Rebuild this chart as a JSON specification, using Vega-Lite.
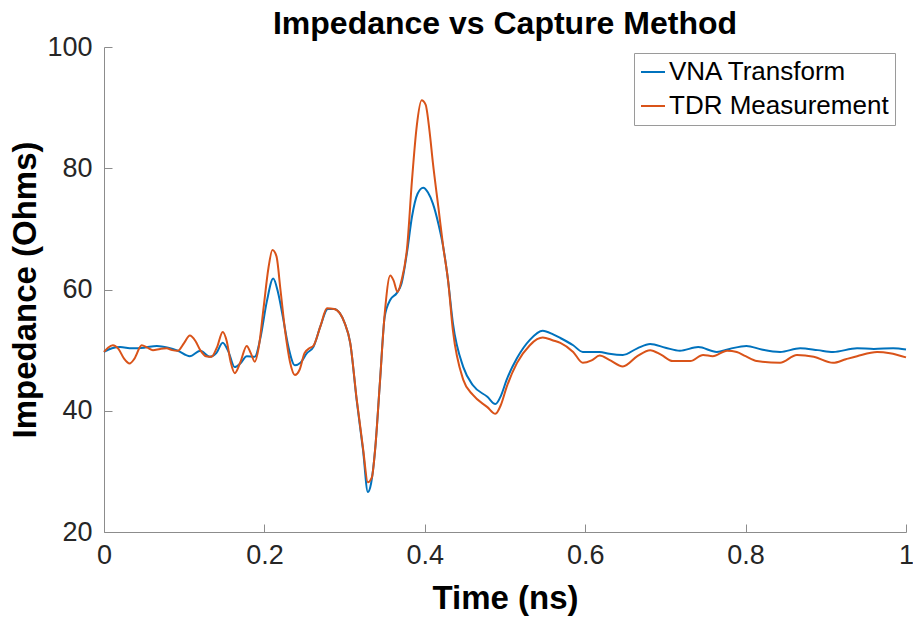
{
  "$schema": "https://vega.github.io/schema/vega-lite/v6.json",
  "width": 802,
  "height": 485,
  "autosize": {"type": "none"},
  "padding": {"left": 104, "top": 47, "right": 7, "bottom": 91},
  "background": "white",
  "title": {"text": "Impedance vs Capture Method", "fontSize": 32, "fontWeight": "bold", "font": "Liberation Sans", "color": "#000000", "anchor": "middle", "baseline": "alphabetic", "offset": -33},
  "config": {"view": {"stroke": null}},
  "data": {"values": [
    {"t":0.000,"z":49.7,"s":"VNA Transform"},{"t":0.010,"z":50.3,"s":"VNA Transform"},{"t":0.020,"z":50.5,"s":"VNA Transform"},{"t":0.035,"z":50.3,"s":"VNA Transform"},{"t":0.050,"z":50.4,"s":"VNA Transform"},{"t":0.066,"z":50.7,"s":"VNA Transform"},{"t":0.080,"z":50.4,"s":"VNA Transform"},{"t":0.092,"z":49.9,"s":"VNA Transform"},{"t":0.107,"z":49.0,"s":"VNA Transform"},{"t":0.120,"z":49.9,"s":"VNA Transform"},{"t":0.132,"z":48.9,"s":"VNA Transform"},{"t":0.140,"z":49.5,"s":"VNA Transform"},{"t":0.148,"z":51.2,"s":"VNA Transform"},{"t":0.155,"z":49.8,"s":"VNA Transform"},{"t":0.163,"z":47.2,"s":"VNA Transform"},{"t":0.170,"z":47.8,"s":"VNA Transform"},{"t":0.178,"z":49.0,"s":"VNA Transform"},{"t":0.188,"z":48.9,"s":"VNA Transform"},{"t":0.195,"z":52.0,"s":"VNA Transform"},{"t":0.203,"z":58.0,"s":"VNA Transform"},{"t":0.211,"z":61.8,"s":"VNA Transform"},{"t":0.217,"z":59.5,"s":"VNA Transform"},{"t":0.223,"z":55.5,"s":"VNA Transform"},{"t":0.230,"z":50.5,"s":"VNA Transform"},{"t":0.238,"z":47.5,"s":"VNA Transform"},{"t":0.245,"z":47.9,"s":"VNA Transform"},{"t":0.253,"z":49.5,"s":"VNA Transform"},{"t":0.261,"z":50.5,"s":"VNA Transform"},{"t":0.270,"z":54.0,"s":"VNA Transform"},{"t":0.279,"z":56.8,"s":"VNA Transform"},{"t":0.287,"z":56.8,"s":"VNA Transform"},{"t":0.294,"z":56.1,"s":"VNA Transform"},{"t":0.300,"z":54.5,"s":"VNA Transform"},{"t":0.307,"z":51.2,"s":"VNA Transform"},{"t":0.315,"z":41.8,"s":"VNA Transform"},{"t":0.323,"z":33.5,"s":"VNA Transform"},{"t":0.329,"z":26.6,"s":"VNA Transform"},{"t":0.333,"z":28.0,"s":"VNA Transform"},{"t":0.338,"z":33.5,"s":"VNA Transform"},{"t":0.344,"z":44.6,"s":"VNA Transform"},{"t":0.350,"z":55.5,"s":"VNA Transform"},{"t":0.357,"z":58.3,"s":"VNA Transform"},{"t":0.365,"z":59.4,"s":"VNA Transform"},{"t":0.371,"z":61.0,"s":"VNA Transform"},{"t":0.378,"z":66.3,"s":"VNA Transform"},{"t":0.384,"z":72.0,"s":"VNA Transform"},{"t":0.391,"z":75.8,"s":"VNA Transform"},{"t":0.398,"z":76.8,"s":"VNA Transform"},{"t":0.404,"z":76.0,"s":"VNA Transform"},{"t":0.410,"z":74.2,"s":"VNA Transform"},{"t":0.417,"z":70.8,"s":"VNA Transform"},{"t":0.423,"z":67.0,"s":"VNA Transform"},{"t":0.429,"z":61.5,"s":"VNA Transform"},{"t":0.435,"z":54.5,"s":"VNA Transform"},{"t":0.448,"z":47.2,"s":"VNA Transform"},{"t":0.460,"z":44.2,"s":"VNA Transform"},{"t":0.478,"z":42.3,"s":"VNA Transform"},{"t":0.488,"z":41.1,"s":"VNA Transform"},{"t":0.495,"z":42.5,"s":"VNA Transform"},{"t":0.502,"z":45.1,"s":"VNA Transform"},{"t":0.515,"z":48.7,"s":"VNA Transform"},{"t":0.531,"z":51.7,"s":"VNA Transform"},{"t":0.547,"z":53.2,"s":"VNA Transform"},{"t":0.560,"z":52.6,"s":"VNA Transform"},{"t":0.569,"z":52.0,"s":"VNA Transform"},{"t":0.585,"z":50.8,"s":"VNA Transform"},{"t":0.597,"z":49.7,"s":"VNA Transform"},{"t":0.618,"z":49.7,"s":"VNA Transform"},{"t":0.630,"z":49.4,"s":"VNA Transform"},{"t":0.647,"z":49.2,"s":"VNA Transform"},{"t":0.665,"z":50.3,"s":"VNA Transform"},{"t":0.681,"z":51.0,"s":"VNA Transform"},{"t":0.700,"z":50.4,"s":"VNA Transform"},{"t":0.718,"z":49.9,"s":"VNA Transform"},{"t":0.741,"z":50.5,"s":"VNA Transform"},{"t":0.764,"z":49.7,"s":"VNA Transform"},{"t":0.780,"z":50.2,"s":"VNA Transform"},{"t":0.801,"z":50.7,"s":"VNA Transform"},{"t":0.820,"z":50.1,"s":"VNA Transform"},{"t":0.843,"z":49.7,"s":"VNA Transform"},{"t":0.868,"z":50.3,"s":"VNA Transform"},{"t":0.890,"z":50.0,"s":"VNA Transform"},{"t":0.909,"z":49.7,"s":"VNA Transform"},{"t":0.939,"z":50.3,"s":"VNA Transform"},{"t":0.960,"z":50.2,"s":"VNA Transform"},{"t":0.984,"z":50.3,"s":"VNA Transform"},{"t":1.000,"z":50.1,"s":"VNA Transform"},
    {"t":0.000,"z":49.7,"s":"TDR Measurement"},{"t":0.005,"z":50.4,"s":"TDR Measurement"},{"t":0.011,"z":50.8,"s":"TDR Measurement"},{"t":0.018,"z":50.2,"s":"TDR Measurement"},{"t":0.025,"z":48.6,"s":"TDR Measurement"},{"t":0.032,"z":47.8,"s":"TDR Measurement"},{"t":0.038,"z":48.6,"s":"TDR Measurement"},{"t":0.047,"z":50.8,"s":"TDR Measurement"},{"t":0.054,"z":50.4,"s":"TDR Measurement"},{"t":0.061,"z":50.0,"s":"TDR Measurement"},{"t":0.070,"z":50.2,"s":"TDR Measurement"},{"t":0.078,"z":50.3,"s":"TDR Measurement"},{"t":0.085,"z":50.0,"s":"TDR Measurement"},{"t":0.092,"z":49.9,"s":"TDR Measurement"},{"t":0.100,"z":51.2,"s":"TDR Measurement"},{"t":0.107,"z":52.4,"s":"TDR Measurement"},{"t":0.114,"z":51.5,"s":"TDR Measurement"},{"t":0.120,"z":50.0,"s":"TDR Measurement"},{"t":0.127,"z":49.0,"s":"TDR Measurement"},{"t":0.134,"z":48.9,"s":"TDR Measurement"},{"t":0.141,"z":50.5,"s":"TDR Measurement"},{"t":0.148,"z":53.0,"s":"TDR Measurement"},{"t":0.153,"z":51.5,"s":"TDR Measurement"},{"t":0.158,"z":48.0,"s":"TDR Measurement"},{"t":0.163,"z":46.2,"s":"TDR Measurement"},{"t":0.170,"z":48.0,"s":"TDR Measurement"},{"t":0.178,"z":50.7,"s":"TDR Measurement"},{"t":0.183,"z":49.5,"s":"TDR Measurement"},{"t":0.188,"z":48.1,"s":"TDR Measurement"},{"t":0.193,"z":50.5,"s":"TDR Measurement"},{"t":0.199,"z":57.0,"s":"TDR Measurement"},{"t":0.205,"z":63.5,"s":"TDR Measurement"},{"t":0.210,"z":66.5,"s":"TDR Measurement"},{"t":0.215,"z":65.5,"s":"TDR Measurement"},{"t":0.220,"z":60.0,"s":"TDR Measurement"},{"t":0.226,"z":53.0,"s":"TDR Measurement"},{"t":0.232,"z":48.0,"s":"TDR Measurement"},{"t":0.238,"z":45.9,"s":"TDR Measurement"},{"t":0.244,"z":46.8,"s":"TDR Measurement"},{"t":0.250,"z":49.5,"s":"TDR Measurement"},{"t":0.256,"z":50.3,"s":"TDR Measurement"},{"t":0.261,"z":50.7,"s":"TDR Measurement"},{"t":0.270,"z":54.0,"s":"TDR Measurement"},{"t":0.278,"z":56.9,"s":"TDR Measurement"},{"t":0.287,"z":56.8,"s":"TDR Measurement"},{"t":0.294,"z":56.1,"s":"TDR Measurement"},{"t":0.300,"z":54.5,"s":"TDR Measurement"},{"t":0.307,"z":51.2,"s":"TDR Measurement"},{"t":0.315,"z":42.0,"s":"TDR Measurement"},{"t":0.323,"z":33.8,"s":"TDR Measurement"},{"t":0.329,"z":28.2,"s":"TDR Measurement"},{"t":0.334,"z":29.0,"s":"TDR Measurement"},{"t":0.338,"z":33.5,"s":"TDR Measurement"},{"t":0.344,"z":44.6,"s":"TDR Measurement"},{"t":0.350,"z":56.0,"s":"TDR Measurement"},{"t":0.357,"z":62.3,"s":"TDR Measurement"},{"t":0.361,"z":61.5,"s":"TDR Measurement"},{"t":0.366,"z":59.6,"s":"TDR Measurement"},{"t":0.371,"z":61.5,"s":"TDR Measurement"},{"t":0.378,"z":67.0,"s":"TDR Measurement"},{"t":0.384,"z":78.0,"s":"TDR Measurement"},{"t":0.390,"z":87.0,"s":"TDR Measurement"},{"t":0.396,"z":91.2,"s":"TDR Measurement"},{"t":0.401,"z":90.5,"s":"TDR Measurement"},{"t":0.406,"z":86.0,"s":"TDR Measurement"},{"t":0.410,"z":81.0,"s":"TDR Measurement"},{"t":0.417,"z":73.5,"s":"TDR Measurement"},{"t":0.423,"z":67.0,"s":"TDR Measurement"},{"t":0.429,"z":61.5,"s":"TDR Measurement"},{"t":0.435,"z":53.3,"s":"TDR Measurement"},{"t":0.448,"z":45.1,"s":"TDR Measurement"},{"t":0.460,"z":42.6,"s":"TDR Measurement"},{"t":0.478,"z":40.6,"s":"TDR Measurement"},{"t":0.488,"z":39.5,"s":"TDR Measurement"},{"t":0.495,"z":41.0,"s":"TDR Measurement"},{"t":0.502,"z":43.9,"s":"TDR Measurement"},{"t":0.515,"z":47.9,"s":"TDR Measurement"},{"t":0.531,"z":50.8,"s":"TDR Measurement"},{"t":0.540,"z":51.8,"s":"TDR Measurement"},{"t":0.547,"z":52.1,"s":"TDR Measurement"},{"t":0.560,"z":51.6,"s":"TDR Measurement"},{"t":0.569,"z":51.2,"s":"TDR Measurement"},{"t":0.585,"z":49.7,"s":"TDR Measurement"},{"t":0.597,"z":47.9,"s":"TDR Measurement"},{"t":0.608,"z":48.3,"s":"TDR Measurement"},{"t":0.618,"z":49.1,"s":"TDR Measurement"},{"t":0.630,"z":48.4,"s":"TDR Measurement"},{"t":0.647,"z":47.3,"s":"TDR Measurement"},{"t":0.665,"z":49.0,"s":"TDR Measurement"},{"t":0.681,"z":50.0,"s":"TDR Measurement"},{"t":0.695,"z":49.2,"s":"TDR Measurement"},{"t":0.709,"z":48.2,"s":"TDR Measurement"},{"t":0.731,"z":48.2,"s":"TDR Measurement"},{"t":0.747,"z":49.2,"s":"TDR Measurement"},{"t":0.759,"z":49.0,"s":"TDR Measurement"},{"t":0.777,"z":49.9,"s":"TDR Measurement"},{"t":0.789,"z":49.7,"s":"TDR Measurement"},{"t":0.800,"z":49.0,"s":"TDR Measurement"},{"t":0.814,"z":48.2,"s":"TDR Measurement"},{"t":0.843,"z":47.9,"s":"TDR Measurement"},{"t":0.864,"z":49.2,"s":"TDR Measurement"},{"t":0.885,"z":48.9,"s":"TDR Measurement"},{"t":0.909,"z":47.9,"s":"TDR Measurement"},{"t":0.925,"z":48.5,"s":"TDR Measurement"},{"t":0.939,"z":49.0,"s":"TDR Measurement"},{"t":0.964,"z":49.7,"s":"TDR Measurement"},{"t":0.980,"z":49.5,"s":"TDR Measurement"},{"t":1.000,"z":48.8,"s":"TDR Measurement"}
  ]},
  "mark": {"type": "line", "interpolate": "monotone", "strokeWidth": 2},
  "encoding": {
    "x": {"field": "t", "type": "quantitative", "scale": {"domain": [0, 1], "nice": false},
      "axis": {"title": "Time (ns)", "values": [0, 0.2, 0.4, 0.6, 0.8, 1], "format": "~g", "grid": false,
        "domainColor": "#8c8c8c", "tickColor": "#8c8c8c", "tickSize": -8, "labelPadding": 18,
        "labelFontSize": 27, "labelFont": "Liberation Sans", "labelColor": "#262626",
        "titleFontSize": 33, "titleFont": "Liberation Sans", "titleFontWeight": "bold", "titleColor": "#000000", "titlePadding": 14, "labelFlush": false}},
    "y": {"field": "z", "type": "quantitative", "scale": {"domain": [20, 100], "nice": false, "zero": false},
      "axis": {"title": "Impedance (Ohms)", "values": [20, 40, 60, 80, 100], "grid": false,
        "domainColor": "#8c8c8c", "tickColor": "#8c8c8c", "tickSize": -8, "labelPadding": 20,
        "labelFontSize": 27, "labelFont": "Liberation Sans", "labelColor": "#262626",
        "titleFontSize": 33, "titleFont": "Liberation Sans", "titleFontWeight": "bold", "titleColor": "#000000", "titlePadding": 4, "labelFlush": false}},
    "color": {"field": "s", "type": "nominal", "sort": ["VNA Transform", "TDR Measurement"],
      "scale": {"domain": ["VNA Transform", "TDR Measurement"], "range": ["#0072BD", "#D95319"]},
      "legend": {"title": null, "orient": "none", "legendX": 530, "legendY": 6,
        "symbolType": "stroke", "symbolSize": 576, "symbolStrokeWidth": 2,
        "labelFontSize": 26, "labelFont": "Liberation Sans", "labelColor": "#000000", "labelLimit": 400,
        "strokeColor": "#9a9a9a", "fillColor": "white", "padding": 6, "rowPadding": 8, "labelOffset": 3}}
  }
}
